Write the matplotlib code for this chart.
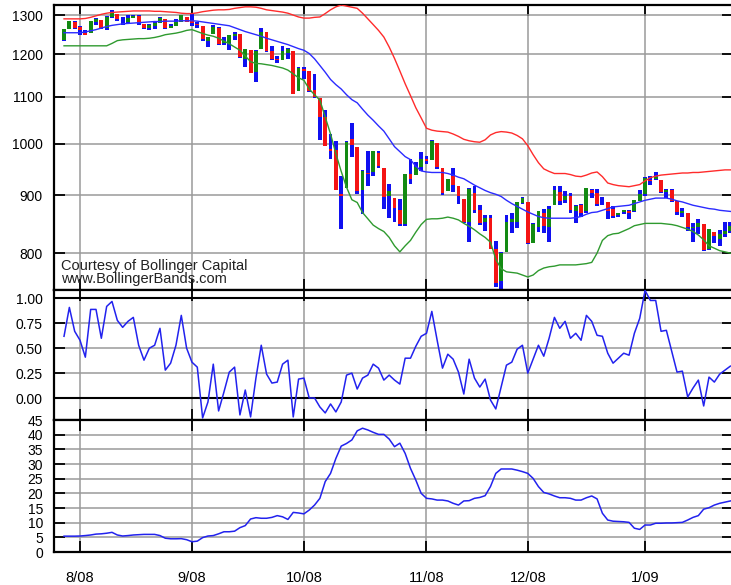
import matplotlib
matplotlib.use("Agg")
import matplotlib.pyplot as plt
import numpy as np
import pandas as pd
from matplotlib.ticker import FixedLocator, NullLocator, FuncFormatter

plt.rcParams['font.family'] = ['Liberation Sans', 'DejaVu Sans']

# trading days on the chart (7/29/2008 - 1/27/2009)
holidays = ['2008-09-01', '2008-11-27', '2008-12-25', '2009-01-01', '2009-01-19']
days = pd.bdate_range('2008-07-29', '2009-01-27')
days = days[~days.isin(pd.to_datetime(holidays))]

opens = [1236, 1264, 1281, 1269, 1253, 1254, 1283, 1286, 1266, 1295,
         1304, 1288, 1282, 1293, 1298, 1276, 1267, 1271, 1278, 1290,
         1267, 1271, 1283, 1296, 1287, 1276, 1271, 1233, 1250, 1267,
         1228, 1229, 1245, 1250, 1189, 1210, 1157, 1213, 1255, 1208,
         1189, 1187, 1204, 1209, 1113, 1164, 1160, 1116, 1097, 1057,
         989, 988, 902, 913, 1010, 994, 909, 942, 943, 981,
         951, 899, 895, 874, 849, 940, 939, 953, 969, 967,
         1001, 952, 908, 936, 917, 893, 853, 905, 873, 852,
         859, 806, 755, 801, 853, 852, 886, 888, 817, 843,
         869, 844, 882, 906, 892, 898, 871, 882, 871, 909,
         905, 887, 887, 875, 864, 870, 872, 871, 890, 903,
         929, 931, 928, 906, 910, 890, 869, 868, 842, 844,
         849, 807, 836, 823, 832, 837]
highs = [1263, 1285, 1285, 1271, 1260, 1285, 1292, 1287, 1297, 1313,
         1304, 1294, 1301, 1301, 1301, 1276, 1277, 1281, 1294, 1290,
         1276, 1289, 1301, 1296, 1303, 1281, 1271, 1244, 1275, 1269,
         1243, 1249, 1255, 1250, 1214, 1210, 1211, 1265, 1255, 1220,
         1197, 1221, 1215, 1209, 1169, 1170, 1160, 1153, 1097, 1072,
         1021, 1005, 936, 1006, 1044, 994, 948, 985, 985, 986,
         951, 922, 896, 894, 941, 969, 964, 984, 976, 1007,
         1001, 952, 931, 951, 917, 893, 913, 917, 882, 865,
         864, 820, 801, 865, 869, 888, 897, 888, 850, 871,
         876, 880, 918, 917, 908, 904, 883, 884, 914, 911,
         912, 897, 887, 880, 869, 873, 874, 891, 910, 935,
         937, 943, 928, 911, 911, 890, 877, 868, 851, 858,
         849, 841, 836, 839, 852, 852]
lows = [1234, 1264, 1264, 1247, 1247, 1254, 1274, 1264, 1262, 1292,
        1285, 1274, 1277, 1292, 1275, 1264, 1261, 1264, 1278, 1264,
        1267, 1271, 1283, 1282, 1272, 1266, 1232, 1217, 1250, 1224,
        1222, 1211, 1235, 1192, 1169, 1156, 1133, 1213, 1205, 1187,
        1180, 1187, 1188, 1106, 1113, 1141, 1111, 1098, 1007, 996,
        970, 909, 840, 913, 973, 903, 866, 918, 937, 952,
        875, 860, 853, 846, 846, 922, 939, 945, 959, 967,
        949, 900, 908, 907, 884, 850, 818, 869, 848, 837,
        806, 747, 741, 801, 834, 842, 884, 815, 817, 836,
        834, 818, 882, 883, 886, 868, 851, 861, 868, 896,
        881, 882, 857, 860, 861, 866, 858, 870, 889, 899,
        919, 928, 904, 896, 887, 865, 862, 837, 818, 831,
        804, 805, 816, 812, 827, 834]
closes = [1263, 1284, 1267, 1260, 1249, 1285, 1289, 1266, 1296, 1305,
          1290, 1286, 1293, 1298, 1279, 1267, 1275, 1278, 1292, 1267,
          1272, 1282, 1301, 1283, 1278, 1275, 1237, 1242, 1268, 1225,
          1232, 1249, 1252, 1193, 1214, 1156, 1207, 1255, 1207, 1188,
          1186, 1209, 1213, 1106, 1166, 1161, 1114, 1099, 1057, 996,
          985, 910, 899, 1003, 998, 908, 946, 941, 985, 955,
          897, 908, 877, 849, 941, 930, 954, 969, 966, 1006,
          953, 905, 931, 919, 899, 852, 911, 873, 851, 859,
          807, 752, 800, 852, 857, 888, 896, 816, 849, 871,
          845, 876, 910, 889, 899, 874, 880, 869, 913, 904,
          885, 888, 872, 863, 868, 873, 869, 891, 903, 932,
          927, 935, 907, 910, 890, 870, 872, 843, 844, 850,
          805, 840, 828, 832, 837, 846]

# bollinger bands as drawn
upper = [1290, 1290, 1290, 1290, 1291, 1294, 1298, 1302, 1305, 1307,
         1308, 1309, 1310, 1311, 1311, 1311, 1311, 1310, 1310, 1309,
         1308, 1307, 1305, 1304, 1304, 1306, 1309, 1311, 1313, 1314,
         1314, 1315, 1318, 1320, 1322, 1322, 1321, 1318, 1314, 1312,
         1310, 1308, 1305, 1300, 1295, 1292, 1292, 1294, 1295, 1304,
         1314, 1322, 1327, 1324, 1321, 1318, 1305, 1290, 1275, 1260,
         1243, 1218, 1190, 1160, 1130, 1103, 1076, 1054, 1032, 1028,
         1026, 1025, 1024, 1020, 1015, 1009, 1006, 1004, 1003, 1008,
         1018, 1023, 1025, 1024, 1022, 1017, 1010, 996, 978, 962,
         950, 945, 941, 941, 941, 939, 936, 935, 938, 942,
         944, 935, 923, 920, 918, 917, 916, 918, 920, 927,
         933, 936, 938, 939, 940, 941, 942, 942, 943, 943,
         944, 945, 946, 947, 948, 948]
middle = [1254, 1254, 1254, 1254, 1256, 1259, 1262, 1266, 1270, 1273,
          1275, 1277, 1278, 1279, 1280, 1281, 1282, 1283, 1283, 1284,
          1284, 1284, 1285, 1285, 1285, 1284, 1282, 1280, 1278, 1276,
          1274, 1272, 1267, 1262, 1257, 1253, 1249, 1245, 1240, 1236,
          1232, 1228, 1224, 1219, 1214, 1210, 1202, 1189, 1173, 1157,
          1140, 1128, 1118, 1105, 1094, 1087, 1073, 1060, 1049, 1037,
          1026, 1010, 994, 984, 974, 968, 955, 946, 944, 943,
          943, 943, 941, 938, 934, 931, 925, 919, 914, 909,
          905, 902, 898, 891, 885, 880, 875, 870, 866, 862,
          860, 859, 859, 859, 859, 859, 860, 862, 866, 869,
          870, 873, 876, 879, 880, 881, 882, 885, 888, 891,
          893, 895, 895, 895, 893, 890, 888, 885, 882, 880,
          878, 876, 875, 873, 872, 871]
lower = [1221, 1221, 1221, 1221, 1221, 1221, 1221, 1221, 1221, 1227,
         1234, 1236, 1237, 1238, 1239, 1239, 1240, 1242, 1245, 1249,
         1251, 1253, 1256, 1260, 1262, 1257, 1252, 1248, 1245, 1240,
         1233, 1226, 1218, 1210, 1196, 1182, 1178, 1177, 1175, 1173,
         1170, 1167, 1162, 1153, 1144, 1138, 1118, 1105, 1093, 1056,
         1020, 980, 945, 915, 892, 887, 869, 858, 847, 841,
         836, 826, 812, 802, 812, 821, 835, 848, 857, 858,
         858, 859, 861, 859, 856, 850, 845, 839, 832, 826,
         818, 790, 775, 770, 769, 768, 765, 762, 765, 772,
         776, 778, 779, 781, 781, 781, 781, 782, 783, 785,
         800, 821, 829, 832, 833, 837, 841, 846, 848, 850,
         850, 850, 850, 849, 848, 846, 843, 840, 836, 830,
         822, 812, 808, 804, 802, 800]

pct_b = [0.62, 0.91, 0.67, 0.58, 0.41, 0.89, 0.89, 0.60, 0.92, 0.97,
         0.78, 0.71, 0.77, 0.81, 0.53, 0.38, 0.50, 0.53, 0.70, 0.28,
         0.35, 0.53, 0.83, 0.50, 0.36, 0.31, -0.20, -0.04, 0.34, -0.13,
         0.06, 0.26, 0.31, -0.17, 0.08, -0.19, 0.20, 0.53, 0.24, 0.15,
         0.16, 0.34, 0.38, -0.19, 0.19, 0.20, 0.00, 0.00, -0.09, -0.15,
         -0.06, -0.14, -0.04, 0.23, 0.25, 0.09, 0.20, 0.23, 0.34, 0.30,
         0.18, 0.23, 0.18, 0.14, 0.40, 0.40, 0.52, 0.62, 0.65, 0.87,
         0.58, 0.30, 0.44, 0.39, 0.26, 0.04, 0.39, 0.20, 0.11, 0.19,
         -0.02, -0.11, 0.11, 0.33, 0.36, 0.49, 0.53, 0.25, 0.39, 0.53,
         0.42, 0.60, 0.81, 0.70, 0.77, 0.60, 0.65, 0.58, 0.83, 0.77,
         0.63, 0.62, 0.45, 0.35, 0.40, 0.45, 0.43, 0.65, 0.80, 1.08,
         0.98, 0.98, 0.67, 0.68, 0.47, 0.26, 0.27, 0.01, 0.10, 0.18,
         -0.08, 0.21, 0.16, 0.24, 0.28, 0.32]

bandwidth = [5.4, 5.4, 5.4, 5.45, 5.6, 5.8, 6.1, 6.2, 6.4, 6.7,
             5.8, 5.45, 5.6, 5.8, 5.9, 6.0, 6.0, 6.0, 5.6, 4.7,
             4.5, 4.5, 4.55, 4.2, 3.5, 3.7, 4.9, 5.45, 5.6, 6.2,
             6.9, 6.9, 7.1, 8.3, 9.0, 11.25, 11.7, 11.5, 11.5, 11.8,
             12.4, 12.0, 11.1, 13.5, 13.3, 13.0, 14.3, 16.0, 18.3, 24.0,
             26.8, 31.9, 36.1, 37.0, 38.2, 41.3, 42.2, 41.6, 40.8, 40.1,
             40.1, 38.5, 35.9, 37.1, 33.6, 28.5, 24.5, 20.0, 18.3, 18.1,
             17.7, 17.7, 17.4, 16.6, 16.0, 17.4, 17.5, 18.3, 18.6, 19.2,
             22.3, 26.8, 28.3, 28.3, 28.3, 27.9, 27.4, 26.8, 25.1, 22.3,
             20.3, 19.8, 19.1, 18.5, 18.5, 18.3, 17.7, 17.7, 18.5, 19.1,
             18.1, 13.2, 10.9, 10.5, 10.4, 10.3, 10.1, 8.1, 7.7, 9.2,
             9.2, 9.8, 9.8, 9.9, 9.9, 10.0, 10.1, 10.9, 11.8, 12.4,
             14.6, 15.1, 16.0, 16.6, 17.0, 17.4]

price_ticks = [800, 900, 1000, 1100, 1200, 1300]
pctb_ticks = [0.0, 0.25, 0.5, 0.75, 1.0]
bw_ticks = list(range(0, 50, 5))

# month ticks = first trading day of each month
months = days.to_period('M')
month_idx = [i for i in range(1, len(days)) if months[i] != months[i - 1]]
month_lab = [f"{days[i].month}/{days[i].strftime('%y')}" for i in month_idx]

o = np.array(opens, float)
h = np.array(highs, float)
l = np.array(lows, float)
c = np.array(closes, float)
x = np.arange(len(c))

BAR_BLUE = '#1010f0'
BAR_RED = '#f41414'
BAR_GREEN = '#138a13'
GRID = '#9a9a9a'

fig = plt.figure(figsize=(7.31, 5.85), dpi=100)
left, width = 54 / 731, 679 / 731
ax1 = fig.add_axes([left, 1 - 290 / 585, width, 285 / 585])
ax2 = fig.add_axes([left, 1 - 420 / 585, width, 130 / 585])
ax3 = fig.add_axes([left, 1 - 552 / 585, width, 132 / 585])

# price bars
ax1.set_yscale('log')
bw = 0.72
ax1.bar(x, h - l, bottom=l, width=bw, color=BAR_BLUE, linewidth=0, zorder=2)
up = c >= o
ax1.bar(x[up], (c - o)[up], bottom=o[up], width=bw, color=BAR_GREEN, linewidth=0, zorder=2)
ax1.bar(x[~up], (o - c)[~up], bottom=c[~up], width=bw, color=BAR_RED, linewidth=0, zorder=2)
ax1.plot(x, upper, color='#ff2b2b', lw=1.0, zorder=3)
ax1.plot(x, middle, color='#2b2bff', lw=1.0, zorder=3)
ax1.plot(x, lower, color='#2f9a2f', lw=1.0, zorder=3)
ax1.set_ylim(742, 1327)
ax1.yaxis.set_major_locator(FixedLocator(price_ticks))
ax1.yaxis.set_minor_locator(NullLocator())
ax1.yaxis.set_major_formatter(FuncFormatter(lambda v, p: f"{v:.0f}"))
ax1.text(0.0105, 0.084, 'Courtesy of Bollinger Capital', transform=ax1.transAxes,
         fontsize=10.5, va='center', ha='left', color='#222222')
ax1.text(0.0105, 0.038, 'www.BollingerBands.com', transform=ax1.transAxes,
         fontsize=10.5, va='center', ha='left', color='#222222')

# %b
ax2.plot(x, pct_b, color='#2222ee', lw=1.1, zorder=3)
ax2.axhline(0, color='black', lw=1.5, zorder=2)
ax2.axhline(1, color='black', lw=1.5, zorder=2)
ax2.set_ylim(-0.221, 1.085)
ax2.set_yticks(pctb_ticks)
ax2.set_yticklabels([f"{v:.2f}" for v in pctb_ticks])

# bandwidth
ax3.plot(x, bandwidth, color='#2222ee', lw=1.1, zorder=3)
ax3.set_ylim(0, 45)
ax3.set_yticks(bw_ticks)
ax3.set_yticklabels([str(v) for v in bw_ticks])

for ax in (ax1, ax2, ax3):
    ax.set_xlim(-1.88, 125.5)
    ax.set_xticks(month_idx)
    ax.grid(True, color=GRID, linewidth=1.1)
    ax.set_axisbelow(True)
    ax.tick_params(direction='in', length=8, width=1.3, top=True, right=True,
                   labelsize=10, pad=8, colors='black')
    for s in ax.spines.values():
        s.set_linewidth(1.6)
for ax in (ax1, ax2):
    ax.tick_params(labelbottom=False)
ax3.set_xticklabels(month_lab)
ax3.tick_params(axis='x', pad=14, labelsize=10.5)

fig.savefig('out.png', dpi=100)
